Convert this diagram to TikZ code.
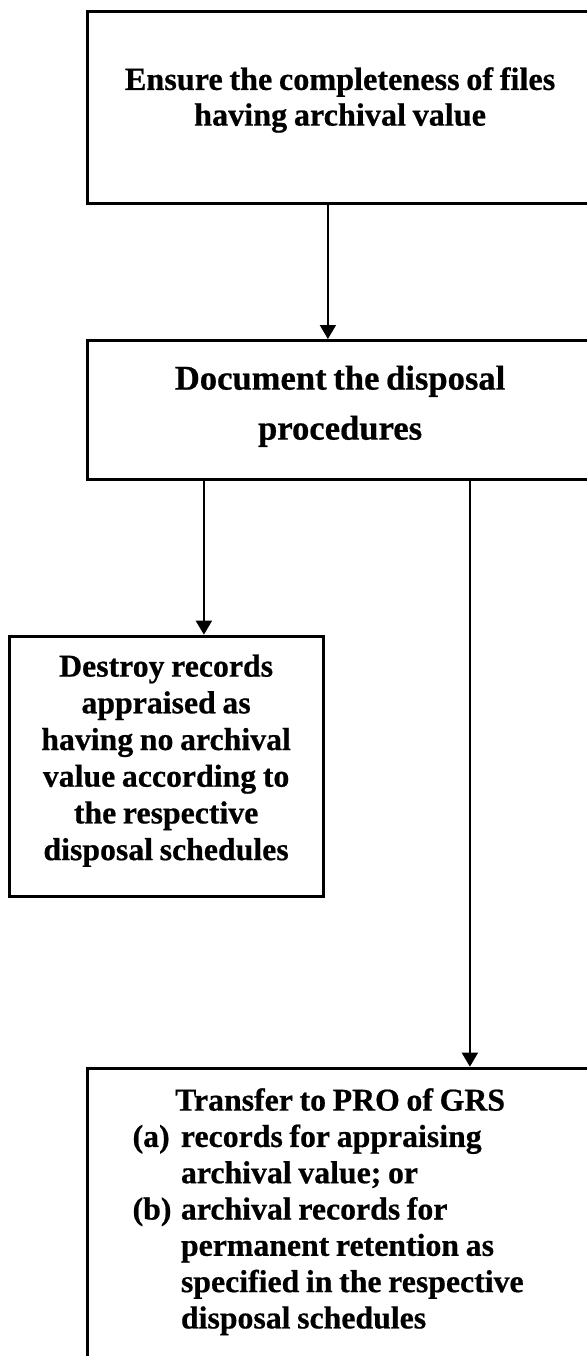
\documentclass[tikz,border=0pt]{standalone}
\usepackage{fontspec}
\setmainfont{Liberation Serif}[BoldFeatures={FakeBold=0.6}]
\usetikzlibrary{arrows.meta, positioning}

\begin{document}
\begin{tikzpicture}[x=0.5pt, y=-0.5pt,
    procbox/.style = {draw, line width=1.6pt, inner sep=0pt, anchor=north west, font=\bfseries},
    flow/.style = {line width=0.9pt, -{Triangle[length=7pt, width=8pt]}}]
  \useasboundingbox (0,0) rectangle (587,1356);

  \node[procbox, text width=252.5pt, text height=39.15pt, text depth=56.85pt] (ensure) at (86,10)
    {\fontsize{16.1pt}{17.85pt}\selectfont\centering Ensure the completeness of files\\ having archival value\par};
  \node[procbox, text width=252.5pt, text height=24.5pt, text depth=44.75pt] (document) at (86,339)
    {\fontsize{17.3pt}{25pt}\selectfont\centering Document the disposal\\ procedures\par};
  \node[procbox, text width=157pt, text height=20.15pt, text depth=110pt] (destroy) at (7.5,634.7)
    {\fontsize{15.9pt}{18.35pt}\selectfont\centering Destroy records\\ appraised as\\ having no archival\\
     value according to\\ the respective\\ disposal schedules\par};
  \node[procbox, text width=252.5pt, text height=21.15pt, text depth=160pt] (transfer) at (86,1066.7)
    {\fontsize{15.9pt}{18.15pt}\selectfont\centering Transfer to PRO of GRS\par
     \raggedright\hspace*{22.5pt}\begin{tabular}[t]{@{}l@{\hspace{4.75pt}}l@{}}
       (a) & records for appraising\\
           & archival value; or\\
       (b) & archival records for\\
           & permanent retention as\\
           & specified in the respective\\
           & disposal schedules
     \end{tabular}\par};

  \draw[flow] ([xshift=-6.1pt]ensure.south) coordinate (e1) -- (e1 |- document.north);
  \draw[flow] ([xshift=-68.1pt]document.south) coordinate (d1) -- (d1 |- destroy.north);
  \draw[flow] ([xshift=64.9pt]document.south) coordinate (d2) -- (d2 |- transfer.north);

\end{tikzpicture}
\end{document}
